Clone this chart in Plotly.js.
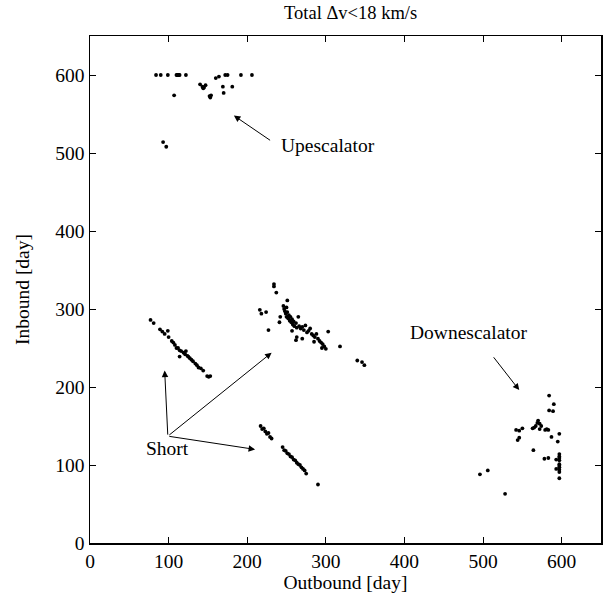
<!DOCTYPE html>
<html>
<head>
<meta charset="utf-8">
<script src="https://cdn.plot.ly/plotly-3.0.1.min.js"></script>
<style>html,body{margin:0;padding:0;background:#fff;}</style>
</head>
<body>
<div id="chart" style="width:605px;height:596px;"></div>
<script>
// Upescalator group
const upX = [84, 90, 99, 110, 111, 112, 113, 114, 122, 160, 164, 172, 175, 192, 206, 107, 140, 143, 144, 145, 147, 152, 153, 154, 169, 170, 181, 93, 97];
const upY = [600, 600, 600, 600, 600, 600, 600, 600, 600, 596, 598, 600, 600, 600, 600, 574, 588, 585, 583, 584, 587, 573, 571, 574, 585, 577, 585, 514, 508];
// Short group A (left diagonal)
const shortAX = [77, 81, 89, 92, 95, 99, 100, 104, 106, 108, 110, 112, 114, 114, 116, 119, 121, 122, 124, 125, 127, 129, 131, 134, 136, 138, 141, 144, 149, 151, 153];
const shortAY = [286, 282, 274, 271, 268, 272, 264, 259, 257, 254, 250, 250, 247, 239, 246, 244, 242, 246, 240, 239, 237, 235, 233, 230, 228, 225, 224, 221, 214, 213, 214];
// Middle group
const midX = [234, 234, 237, 251, 216, 218, 224, 227, 242, 241, 246, 247, 248, 249, 250, 250, 251, 252, 253, 254, 255, 256, 257, 258, 259, 260, 262, 263, 265, 266, 268, 270, 272, 274, 276, 278, 280, 282, 284, 286, 288, 290, 292, 294, 296, 298, 300, 303, 263, 257, 318, 340, 346, 349, 262, 270, 285, 295];
const midY = [332, 329, 321, 311, 299, 294, 296, 273, 290, 283, 304, 300, 297, 294, 302, 290, 296, 288, 292, 285, 290, 283, 287, 280, 284, 278, 282, 276, 290, 278, 275, 277, 273, 279, 270, 272, 275, 268, 266, 264, 268, 262, 259, 257, 255, 252, 249, 271, 264, 272, 252, 234, 232, 228, 260, 262, 258, 250];
// Short group B (lower diagonal)
const shortBX = [217, 219, 221, 223, 225, 227, 229, 231, 245, 247, 249, 251, 253, 255, 257, 259, 261, 263, 265, 267, 269, 271, 273, 275, 290];
const shortBY = [150, 146, 147, 143, 140, 141, 136, 134, 123, 119, 118, 115, 114, 111, 110, 107, 106, 103, 101, 100, 97, 95, 93, 89, 75];
// Downescalator group
const downX = [584, 590, 584, 589, 542, 546, 550, 546, 544, 563, 565, 567, 569, 570, 572, 574, 572, 579, 581, 583, 587, 597, 595, 564, 578, 583, 597, 597, 597, 597, 597, 597, 597, 597, 597, 597, 593, 593, 496, 506, 528];
const downY = [189, 178, 170, 169, 145, 144, 147, 135, 132, 147, 148, 150, 154, 157, 153, 150, 146, 145, 146, 145, 136, 140, 130, 119, 108, 109, 114, 111, 109, 106, 101, 99, 97, 94, 91, 83, 107, 95, 88, 93, 63];

const xTicks = [0, 100, 200, 300, 400, 500, 600];
const yTicks = [0, 100, 200, 300, 400, 500, 600];

const FONT = 'Liberation Serif, Times New Roman, serif';
const FS = 19.5;
const mk = {color: '#000', size: 3.8};
function tr(x, y) {
  return {x: x, y: y, type: 'scatter', mode: 'markers', marker: mk, hoverinfo: 'skip', showlegend: false};
}
const data = [tr(upX, upY), tr(shortAX, shortAY), tr(midX, midY), tr(shortBX, shortBY), tr(downX, downY)];

function arrow(x0, y0, x1, y1) {
  return {x: x1, y: y1, ax: x0, ay: y0, xref: 'x', yref: 'y', axref: 'x', ayref: 'y',
    text: '', showarrow: true, arrowhead: 2, arrowsize: 1.3, arrowwidth: 1, arrowcolor: '#000',
    standoff: 0, startstandoff: 0};
}
function label(t, x, y) {
  return {x: x, y: y, xref: 'x', yref: 'y', text: t, showarrow: false,
    font: {family: FONT, size: FS, color: '#000'}, xanchor: 'center', yanchor: 'middle'};
}
const annotations = [
  arrow(231, 515, 183, 548), label('Upescalator', 303, 509),
  arrow(512, 240, 546, 196), label('Downescalator', 481, 270),
  arrow(99, 137, 95, 221), arrow(99, 137, 231, 244), arrow(99, 137, 210, 120),
  label('Short', 98, 121)
];

const axisCommon = {
  range: [0, 650], showgrid: false, zeroline: false, showline: true, linecolor: '#000', linewidth: 1.5,
  mirror: 'ticks', ticks: 'inside', ticklen: 6, tickwidth: 1, tickcolor: '#000',
  tickfont: {family: FONT, size: FS, color: '#000'}, automargin: false, tickmode: 'array'
};
const layout = {
  width: 605, height: 596,
  margin: {l: 90, r: 4, t: 36, b: 53},
  paper_bgcolor: '#fff', plot_bgcolor: '#fff',
  title: {text: 'Total \u0394v<18 km/s', font: {family: FONT, size: 18.5, color: '#000'},
    x: 0.51, xref: 'paper', xanchor: 'center', y: 0.979, yref: 'container', yanchor: 'middle'},
  xaxis: Object.assign({}, axisCommon, {tickvals: xTicks, ticktext: xTicks.map(String),
    title: {text: 'Outbound [day]', font: {family: FONT, size: FS, color: '#000'}, standoff: 0}}),
  yaxis: Object.assign({}, axisCommon, {tickvals: yTicks, ticktext: yTicks.map(String),
    title: {text: 'Inbound [day]', font: {family: FONT, size: FS, color: '#000'}, standoff: 20}}),
  annotations: annotations
};
Plotly.newPlot('chart', data, layout, {displayModeBar: false, staticPlot: true});
</script>
</body>
</html>
